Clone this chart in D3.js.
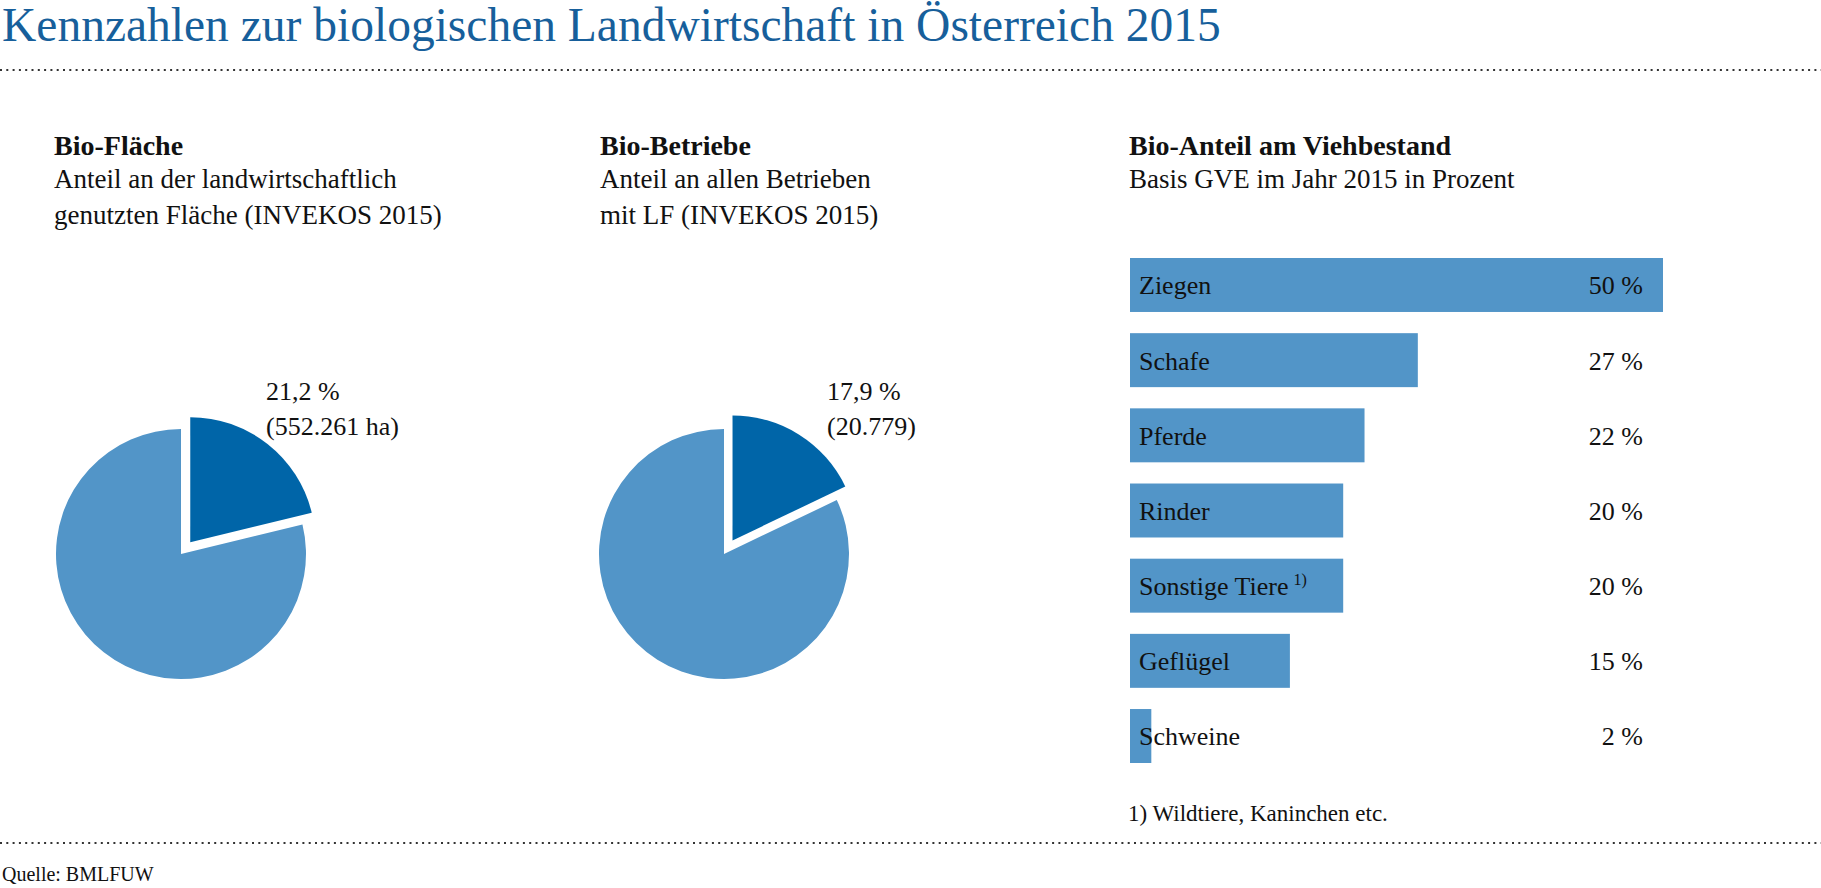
<!DOCTYPE html>
<html>
<head>
<meta charset="utf-8">
<script src="https://cdn.jsdelivr.net/npm/d3@7"></script>
<style>
  body { margin: 0; background: #fff; }
  svg text { font-family: "Liberation Serif", "DejaVu Serif", serif; fill: #111; }
</style>
</head>
<body>
<svg id="chart"></svg>
<script>
// data
var pieTitles = ["Bio-Fläche", "Bio-Betriebe"];
var pieSubtitles = [["Anteil an der landwirtschaftlich", "genutzten Fläche (INVEKOS 2015)"],
                    ["Anteil an allen Betrieben", "mit LF (INVEKOS 2015)"]];
var pieBioShare = [21.2, 17.9];
var pieLabelTop = ["21,2 %", "17,9 %"];
var pieLabelBottom = ["(552.261 ha)", "(20.779)"];

var animals = ["Ziegen", "Schafe", "Pferde", "Rinder", "Sonstige Tiere", "Geflügel", "Schweine"];
var animalShares = [50, 27, 22, 20, 20, 15, 2];
var animalLabels = ["50 %", "27 %", "22 %", "20 %", "20 %", "15 %", "2 %"];

var width = 1821, height = 888;
var lightBlue = "#5295c8", darkBlue = "#0065a8";

var svg = d3.select("#chart")
    .attr("width", width)
    .attr("height", height);

// title
svg.append("text")
    .attr("x", 2)
    .attr("y", 41)
    .style("font-size", "47.5px")
    .style("fill", "#175f9b")
    .text("Kennzahlen zur biologischen Landwirtschaft in Österreich 2015");

// dotted rules
[70, 843].forEach(function(yy) {
  svg.append("line")
      .attr("x1", 0).attr("x2", width)
      .attr("y1", yy).attr("y2", yy)
      .attr("stroke", "#333")
      .attr("stroke-width", 2)
      .attr("stroke-dasharray", "2 4.3");
});

svg.append("text")
    .attr("x", 2)
    .attr("y", 881)
    .style("font-size", "20px")
    .text("Quelle: BMLFUW");

// panel headers
var headerX = [54, 600, 1129];
var headers = [
  {title: pieTitles[0], sub: pieSubtitles[0]},
  {title: pieTitles[1], sub: pieSubtitles[1]},
  {title: "Bio-Anteil am Viehbestand", sub: ["Basis GVE im Jahr 2015 in Prozent"]}
];
headers.forEach(function(h, i) {
  svg.append("text")
      .attr("x", headerX[i])
      .attr("y", 155)
      .style("font-size", "28px")
      .style("font-weight", "bold")
      .text(h.title);
  h.sub.forEach(function(s, j) {
    svg.append("text")
        .attr("x", headerX[i])
        .attr("y", 188 + j * 36)
        .style("font-size", "27px")
        .text(s);
  });
});

// pies
var pieLayout = [{cx: 181, cy: 554, labelDx: 85, explode: 15},
                 {cx: 724, cy: 554, labelDx: 103, explode: 16}];
var radius = 125;
var pie = d3.pie().sort(null).value(function(d) { return d; });
var arc = d3.arc().innerRadius(0).outerRadius(radius);

pieBioShare.forEach(function(v, i) {
  var lay = pieLayout[i];
  var g = svg.append("g")
      .attr("transform", "translate(" + lay.cx + "," + lay.cy + ")");
  var slices = pie([v, 100 - v]);
  g.selectAll("path")
      .data(slices)
    .enter().append("path")
      .attr("d", arc)
      .attr("fill", function(d, k) { return k === 0 ? darkBlue : lightBlue; })
      .attr("transform", function(d, k) {
        if (k !== 0) return null;
        var a = (d.startAngle + d.endAngle) / 2;
        return "translate(" + (Math.sin(a) * lay.explode) + "," + (-Math.cos(a) * lay.explode) + ")";
      });
  g.append("text")
      .attr("x", lay.labelDx)
      .attr("y", -154)
      .style("font-size", "26px")
      .text(pieLabelTop[i]);
  g.append("text")
      .attr("x", lay.labelDx)
      .attr("y", -119)
      .style("font-size", "26px")
      .text(pieLabelBottom[i]);
});

// bars
var x = d3.scaleLinear().domain([0, 50]).range([1130, 1663]);
var y = d3.scaleBand().domain(animals).range([258, 763]).paddingInner(0.282).paddingOuter(0);

var bars = svg.append("g");
bars.selectAll("rect")
    .data(animals)
  .enter().append("rect")
    .attr("x", x(0))
    .attr("y", function(d) { return y(d); })
    .attr("width", function(d, i) { return x(animalShares[i]) - x(0); })
    .attr("height", y.bandwidth())
    .attr("fill", lightBlue);

var catLabels = bars.selectAll("text.cat")
    .data(animals)
  .enter().append("text")
    .attr("class", "cat")
    .attr("x", 1139)
    .attr("y", function(d) { return y(d) + y.bandwidth() / 2; })
    .attr("dy", "0.36em")
    .style("font-size", "26px")
    .text(function(d) { return d; });

// footnote marker on "Sonstige Tiere"
catLabels.filter(function(d) { return d === "Sonstige Tiere"; })
  .append("tspan")
    .attr("dx", 5)
    .attr("dy", -10)
    .style("font-size", "16px")
    .text("1)");

bars.selectAll("text.val")
    .data(animals)
  .enter().append("text")
    .attr("class", "val")
    .attr("x", 1643)
    .attr("y", function(d) { return y(d) + y.bandwidth() / 2; })
    .attr("dy", "0.36em")
    .attr("text-anchor", "end")
    .style("font-size", "26px")
    .text(function(d, i) { return animalLabels[i]; });

svg.append("text")
    .attr("x", 1128)
    .attr("y", 821)
    .style("font-size", "23px")
    .text("1) Wildtiere, Kaninchen etc.");
</script>
</body>
</html>
